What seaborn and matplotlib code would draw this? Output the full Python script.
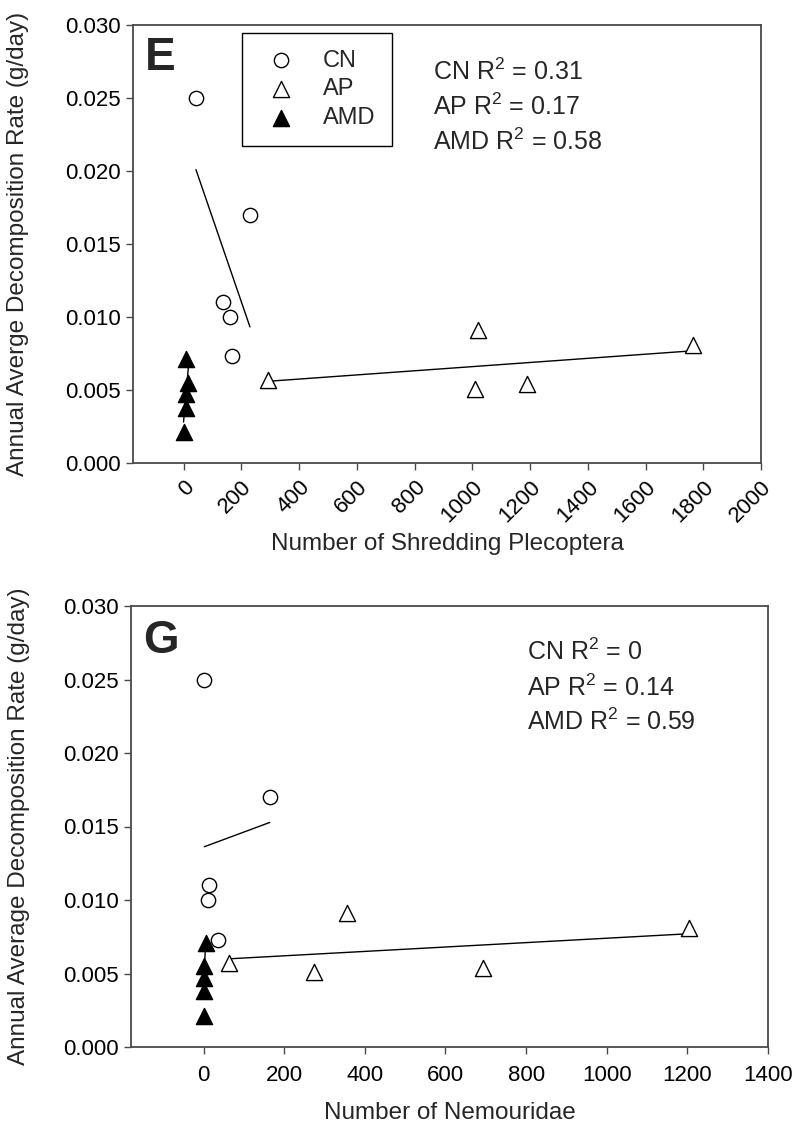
import matplotlib
matplotlib.use("Agg")
import matplotlib.pyplot as plt
from matplotlib.ticker import FormatStrFormatter, MultipleLocator
import seaborn as sns

# ---- data -------------------------------------------------------------
# decomposition rates (g/day) shared by both panels
cn_rate = [0.025, 0.017, 0.011, 0.010, 0.0073]
ap_rate = [0.0057, 0.0091, 0.0051, 0.0054, 0.0081]
amd_rate = [0.0071, 0.0055, 0.0047, 0.0038, 0.0021]

# panel E: number of shredding Plecoptera
cn_plec = [43, 230, 136, 161, 169]
ap_plec = [293, 1021, 1010, 1190, 1766]
amd_plec = [10, 17, 7, 7, 0]

# panel G: number of Nemouridae
cn_nemo = [2, 164, 13, 10, 35]
ap_nemo = [64, 356, 274, 694, 1205]
amd_nemo = [5, 0, 0, 0, 0]

site_names = ["CN", "AP", "AMD"]
r2_text_E = ["CN R$^2$ = 0.31", "AP R$^2$ = 0.17", "AMD R$^2$ = 0.58"]
r2_text_G = ["CN R$^2$ = 0", "AP R$^2$ = 0.14", "AMD R$^2$ = 0.59"]

ylabel_E = "Annual Averge Decomposition Rate (g/day)"
ylabel_G = "Annual Average Decomposition Rate (g/day)"
xlabel_E = "Number of Shredding Plecoptera"
xlabel_G = "Number of Nemouridae"

# ---- style ------------------------------------------------------------
sns.set_theme(style="ticks")
plt.rcParams["font.family"] = ["Liberation Sans", "DejaVu Sans"]
plt.rcParams["mathtext.fontset"] = "custom"
plt.rcParams["mathtext.rm"] = "Liberation Sans"
plt.rcParams["mathtext.it"] = "Liberation Sans:italic"
plt.rcParams["mathtext.bf"] = "Liberation Sans:bold"

FRAME = "#4a4a4a"
marker_styles = [
    dict(marker="o", s=106, facecolor="white"),
    dict(marker="^", s=135, facecolor="white"),
    dict(marker="^", s=135, facecolor="black"),
]

fig = plt.figure(figsize=(7.95, 11.35), dpi=100)
W, H = 795, 1135
axE = fig.add_axes([133 / W, 1 - 463 / H, 628 / W, 438 / H])
axG = fig.add_axes([131 / W, 1 - 1047 / H, 637 / W, 441 / H])


def draw_panel(ax, xs, letter, letter_y, r2_lines, r2_x, r2_y, xlim, xmax_tick):
    rates = [cn_rate, ap_rate, amd_rate]
    for x, y, name, st in zip(xs, rates, site_names, marker_styles):
        sns.regplot(x=x, y=y, ax=ax, scatter=False, ci=None, truncate=True,
                    line_kws=dict(color="black", lw=1.0, zorder=2))
        sns.scatterplot(x=x, y=y, ax=ax, marker=st["marker"], s=st["s"],
                        facecolor=st["facecolor"], edgecolor="black",
                        linewidth=1.0, label=name, zorder=3)
    ax.set_xlim(*xlim)
    ax.set_ylim(0, 0.030)
    ax.yaxis.set_major_locator(MultipleLocator(0.005))
    ax.yaxis.set_major_formatter(FormatStrFormatter("%.3f"))
    ax.set_xticks(list(range(0, xmax_tick + 1, 200)))
    for sp in ax.spines.values():
        sp.set_color(FRAME)
        sp.set_linewidth(1.3)
    ax.tick_params(axis="both", direction="out", length=5, width=1.0,
                   color=FRAME, labelsize=16, labelcolor="black")
    ax.tick_params(axis="y", pad=4)
    ax.text(0.019, letter_y, letter, transform=ax.transAxes,
            fontsize=33, fontweight="bold", va="baseline", ha="left")
    for t, yy in zip(r2_lines, r2_y):
        ax.text(r2_x, yy, t, transform=ax.transAxes, fontsize=18,
                va="baseline", ha="left")


draw_panel(axE, [cn_plec, ap_plec, amd_plec], "E", 0.897, r2_text_E, 0.478,
           [0.874, 0.795, 0.715], (-175, 2000), 2000)
draw_panel(axG, [cn_nemo, ap_nemo, amd_nemo], "G", 0.893, r2_text_G, 0.622,
           [0.878, 0.796, 0.719], (-180, 1400), 1400)

# panel E: legend and rotated ticks
leg = axE.legend(loc="upper left", bbox_to_anchor=(0.1736, 0.9817),
                 borderaxespad=0, frameon=True, fancybox=False,
                 edgecolor="black", framealpha=1, fontsize=17,
                 borderpad=0.7, handlelength=1.9, handletextpad=0.83,
                 labelspacing=0.29)
leg.get_frame().set_linewidth(1.0)
axG.legend().remove()

for lab in axE.get_xticklabels():
    lab.set_rotation(45)
    lab.set_ha("right")
    lab.set_va("top")
    lab.set_rotation_mode("anchor")
axE.tick_params(axis="x", pad=5)
axG.tick_params(axis="x", pad=8)

# axis titles
axE.set_xlabel(xlabel_E, fontsize=17.5)
axE.set_ylabel(ylabel_E, fontsize=17.5)
axG.set_xlabel(xlabel_G, fontsize=17.5)
axG.set_ylabel(ylabel_G, fontsize=17.5)
axE.xaxis.set_label_coords(0.5, -0.16)
axG.xaxis.set_label_coords(0.5, -0.125)
axE.yaxis.set_label_coords(-0.165, 0.5)
axG.yaxis.set_label_coords(-0.159, 0.5)

fig.savefig("out.png", dpi=100, facecolor="white")
